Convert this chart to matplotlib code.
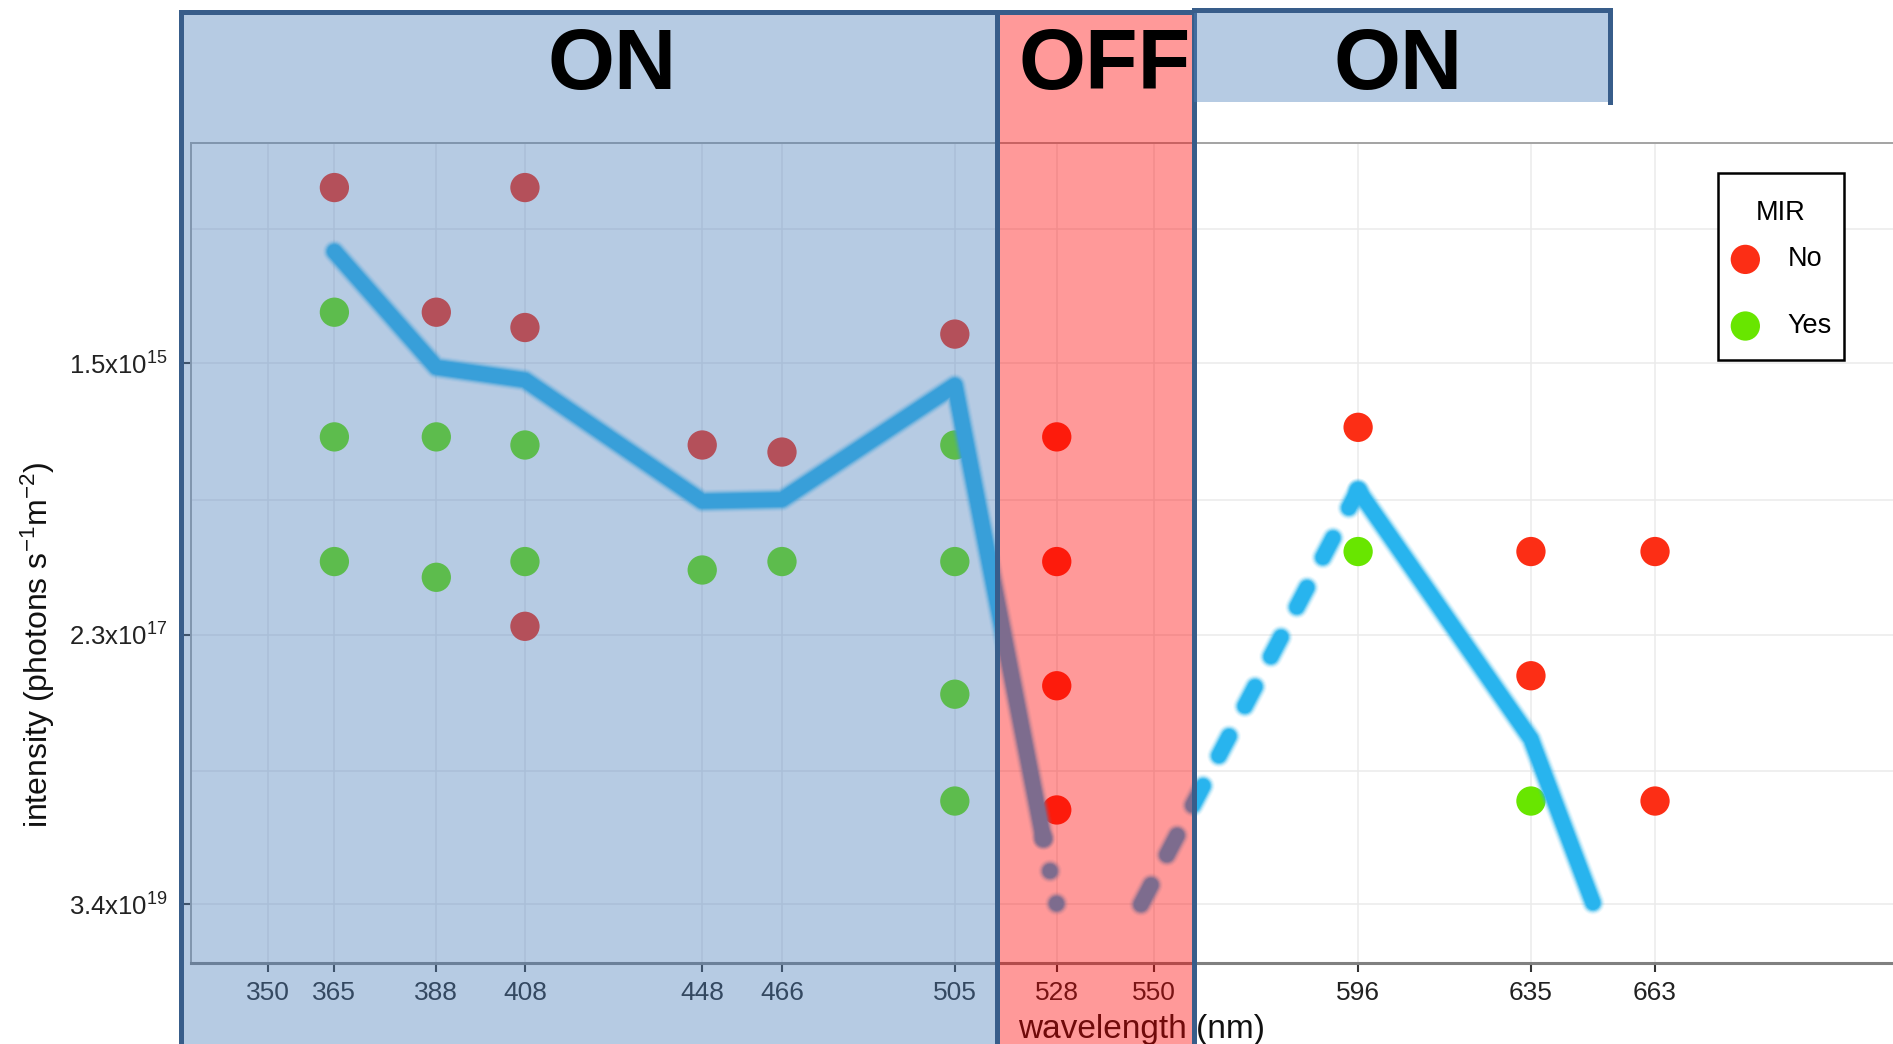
import matplotlib
matplotlib.use("Agg")
import matplotlib.pyplot as plt
import matplotlib.transforms as mtransforms
from matplotlib.patches import Rectangle
from matplotlib.lines import Line2D
from matplotlib.ticker import NullFormatter

plt.rcParams['font.family'] = ['Liberation Sans', 'DejaVu Sans']
plt.rcParams['mathtext.fontset'] = 'custom'
plt.rcParams['mathtext.rm'] = 'Liberation Sans'
plt.rcParams['mathtext.it'] = 'Liberation Sans:italic'
plt.rcParams['mathtext.bf'] = 'Liberation Sans:bold'
plt.rcParams['lines.scale_dashes'] = False

# ---------------- data ----------------
no_wl = [365, 388, 408, 408, 408, 448, 466, 505, 528, 528, 528, 528, 596, 635, 635, 663, 663]
no_int = [5.75e13, 5.8e14, 5.75e13, 7.7e14, 1.96e17, 6.8e15, 7.75e15, 8.7e14,
          5.85e15, 5.9e16, 5.9e17, 5.9e18, 4.9e15, 4.9e16, 4.9e17, 4.9e16, 5.0e18]
yes_wl = [365, 365, 365, 388, 388, 408, 408, 448, 466, 505, 505, 505, 505, 596, 635]
yes_int = [5.8e14, 5.85e15, 5.9e16, 5.85e15, 7.9e16, 6.8e15, 5.9e16, 6.9e16, 5.9e16,
           6.8e15, 5.9e16, 6.9e17, 5.0e18, 4.9e16, 5.0e18]

trend1_wl = [365, 388, 408, 448, 466, 505, 525]
trend1_int = [1.88e14, 1.61e15, 2.04e15, 1.93e16, 1.87e16, 2.25e15, 1.0e19]
trend1_dot_wl = [525, 528]
trend1_dot_int = [1.0e19, 3.4e19]
trend2_dash_wl = [547, 596]
trend2_dash_int = [3.4e19, 1.57e16]
trend2_wl = [596, 635, 649]
trend2_int = [1.57e16, 1.58e18, 3.3e19]

x_ticks = [350, 365, 388, 408, 448, 466, 505, 528, 550, 596, 635, 663]
y_ticks = [1.5e15, 2.3e17, 3.4e19]
y_tick_labels = ['1.5x10$^{15}$', '2.3x10$^{17}$', '3.4x10$^{19}$']
y_minor = [1.24e14, 1.87e16, 2.84e18]

region_edges = [330.4, 514.5, 559.0, 652.8]
region_names = ['ON', 'OFF', 'ON']
region_label_wl = [427.7, 538.9, 605.0]

# ---------------- styles ----------------
W, H = 1893, 1044
red = '#FC2E15'
green = '#68E600'
trend_color = '#28B4EE'
ov_blue = (0.31, 0.506, 0.741, 0.41)
ov_red = (1.0, 0.0, 0.0, 0.40)
ov_edge = '#385D8A'

fig = plt.figure(figsize=(W / 100, H / 100), dpi=100)
fig.patch.set_facecolor('white')
ax = fig.add_axes([190.8 / W, 1 - 963 / H, (2092 - 190.8) / W, 820 / H])
ax.set_facecolor('white')

ax.scatter(no_wl, no_int, s=445, color=red, edgecolors='none', zorder=2, label='No')
ax.scatter(yes_wl, yes_int, s=445, color=green, edgecolors='none', zorder=2, label='Yes')


def glow_line(x, y, style='-'):
    layers = [(17.0, 0.08), (15.4, 0.14), (13.8, 0.25), (12.2, 0.45), (10.6, 0.75), (9.4, 1.0)]
    for lw, a in layers:
        ax.plot(x, y, color=trend_color, lw=lw, alpha=a, linestyle=style,
                solid_capstyle='round', solid_joinstyle='round',
                dash_capstyle='round', dash_joinstyle='round', zorder=3)


glow_line(trend1_wl, trend1_int)
glow_line(trend1_dot_wl, trend1_dot_int, style=(0, (0.1, 23.8)))
glow_line(trend2_dash_wl, trend2_dash_int, style=(0, (15.8, 24.5)))
glow_line(trend2_wl, trend2_int)

ax.set_yscale('log')
ax.set_xlim(332.6, 761.6)
ax.set_ylim(10 ** 20.003, 10 ** 13.401)
ax.set_xticks(x_ticks)
ax.set_xticklabels([str(t) for t in x_ticks])
ax.set_yticks(y_ticks)
ax.set_yticklabels(y_tick_labels)
ax.set_yticks(y_minor, minor=True)
ax.yaxis.set_minor_formatter(NullFormatter())
ax.tick_params(axis='x', which='major', direction='out', length=6.5, width=1.5,
               color='#333333', labelsize=19, labelcolor='#222222', pad=6.5)
ax.tick_params(axis='y', which='major', direction='out', length=5.8, width=1.5,
               color='#333333', labelsize=18.5, labelcolor='#222222', pad=11)
ax.tick_params(axis='y', which='minor', length=0)
ax.grid(True, which='major', color='#ebebeb', lw=1.1)
ax.grid(True, which='minor', axis='y', color='#ebebeb', lw=1.1)
ax.set_axisbelow(True)

for s in ['top', 'left']:
    ax.spines[s].set_color('#a3a3a3')
    ax.spines[s].set_linewidth(1.4)
ax.spines['bottom'].set_color('#808080')
ax.spines['bottom'].set_linewidth(2.2)
ax.spines['right'].set_visible(False)

ax.set_xlabel('wavelength (nm)', fontsize=24, color='#111111')
ax.xaxis.set_label_coords(0.5, -0.0625)
ax.set_ylabel('intensity (photons s$^{-1}$m$^{-2}$)', fontsize=23, color='#111111')
ax.yaxis.label.set_va('center')
ax.yaxis.set_label_coords((37.5 - 190.8) / (2092 - 190.8), 0.388)

# legend: frame and title drawn separately, entries from a frameless legend
ax.add_patch(Rectangle((1718 / W, 1 - 360 / H), 126 / W, 187 / H, transform=fig.transFigure,
                       facecolor='white', edgecolor='black', lw=1.8, zorder=6,
                       clip_on=False))
ax.text(1781 / W, 1 - 212.5 / H, 'MIR', transform=fig.transFigure, ha='center',
        va='center', fontsize=19.5, color='black', zorder=7, clip_on=False)
leg = ax.legend(loc='upper left', bbox_to_anchor=(1731.8 / W, 1 - 246.5 / H),
                bbox_transform=fig.transFigure, frameon=False, fontsize=19.5,
                borderpad=0, labelspacing=1.5, handlelength=1.0, handletextpad=1.06,
                borderaxespad=0, scatterpoints=1)
leg.set_zorder(7)

# ---------------- ON / OFF overlays ----------------
blend = mtransforms.blended_transform_factory(ax.transData, fig.transFigure)
top_y = 1 - 12 / H
fills = [ov_blue, ov_red]
for i in range(2):
    x0, x1 = region_edges[i], region_edges[i + 1]
    fig.add_artist(Rectangle((x0, -0.05), x1 - x0, top_y + 0.05, transform=blend,
                             facecolor=fills[i], edgecolor=ov_edge, lw=3.6, zorder=5))
x0, x1 = region_edges[2], region_edges[3]
b2_bottom, b2_top = 1 - 102 / H, 1 - 10 / H
fig.add_artist(Rectangle((x0, b2_bottom), x1 - x0, b2_top - b2_bottom, transform=blend,
                         facecolor=ov_blue, edgecolor='none', zorder=5))
fig.add_artist(Line2D([x0, x1, x1], [b2_top, b2_top, b2_bottom], transform=blend,
                      color=ov_edge, lw=3.6, solid_joinstyle='miter', zorder=6))

for name, wl in zip(region_names, region_label_wl):
    fig.text(wl, 1 - 89 / H, name, transform=blend, ha='center', va='baseline',
             fontsize=62, fontweight='bold', color='black', zorder=7)

fig.savefig('out.png', dpi=100)
